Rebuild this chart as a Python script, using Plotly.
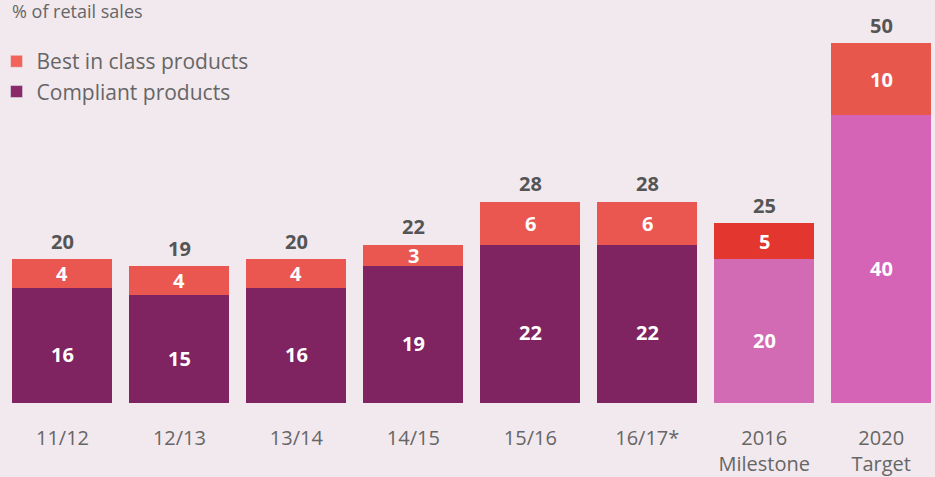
import plotly.graph_objects as go

categories = ["11/12", "12/13", "13/14", "14/15", "15/16", "16/17*", "2016<br>Milestone", "2020<br>Target"]
compliant = [16, 15, 16, 19, 22, 22, 20, 40]
best_in_class = [4, 4, 4, 3, 6, 6, 5, 10]
totals = [20, 19, 20, 22, 28, 28, 25, 50]

compliant_colors = ["#7f2361"] * 6 + ["#d26ab4", "#d664b6"]
best_colors = ["#ea5650"] * 6 + ["#e2362f", "#e8574c"]

x = list(range(len(categories)))
BG = "#f2e9ee"
FONT = "Open Sans"

fig = go.Figure()
fig.add_trace(go.Bar(
    x=x, y=compliant, name="Compliant products",
    marker=dict(color=compliant_colors, line=dict(width=0)),
    showlegend=False, hoverinfo="skip",
))
fig.add_trace(go.Bar(
    x=x, y=best_in_class, name="Best in class products",
    marker=dict(color=best_colors, line=dict(width=0)),
    showlegend=False, hoverinfo="skip",
))
# legend proxies
fig.add_trace(go.Bar(x=[None], y=[None], name="Best in class products",
                     marker=dict(color="#f2645a")))
fig.add_trace(go.Bar(x=[None], y=[None], name="Compliant products",
                     marker=dict(color="#8b2867")))

annotations = []
for i in x:
    annotations.append(dict(x=i, y=compliant[i] / 2, xref="x", yref="y", text=str(compliant[i]),
                            showarrow=False, yshift=-9,
                            font=dict(family=FONT, size=20, color="white", weight="bold")))
    annotations.append(dict(x=i, y=compliant[i] + best_in_class[i] / 2, xref="x", yref="y",
                            text=str(best_in_class[i]), showarrow=False, yshift=0,
                            font=dict(family=FONT, size=20, color="white", weight="bold")))
    annotations.append(dict(x=i, y=totals[i], xref="x", yref="y", text=str(totals[i]),
                            showarrow=False, yshift=18,
                            font=dict(family=FONT, size=20, color="#555555", weight="bold")))

annotations.append(dict(text="% of retail sales", x=0, y=1 - 11 / 403, xref="paper", yref="paper",
                        xanchor="left", yanchor="middle", xshift=6, showarrow=False,
                        font=dict(size=18, color="#666666", family=FONT)))

fig.update_layout(
    width=935, height=477,
    margin=dict(l=4, r=0, t=0, b=74, autoexpand=False),
    paper_bgcolor=BG, plot_bgcolor=BG,
    barmode="stack", bargap=0.145,
    font=dict(family=FONT, color="#666666"),
    legend=dict(x=-0.008, y=0.898, xanchor="left", yanchor="top",
                font=dict(size=21, color="#666666", family=FONT),
                bgcolor="rgba(0,0,0,0)", itemwidth=30, tracegroupgap=0,
                traceorder="normal"),
    xaxis=dict(range=[-0.5, 7.46], tickmode="array", tickvals=x, ticktext=categories,
               showgrid=False, zeroline=False, showline=False, automargin=False,
               ticks="outside", ticklen=17, tickcolor="rgba(0,0,0,0)",
               tickfont=dict(size=20, color="#666666", family=FONT)),
    yaxis=dict(range=[0, 56], visible=False, showgrid=False, zeroline=False, automargin=False),
    annotations=annotations,
)

fig.write_html("out.html")
